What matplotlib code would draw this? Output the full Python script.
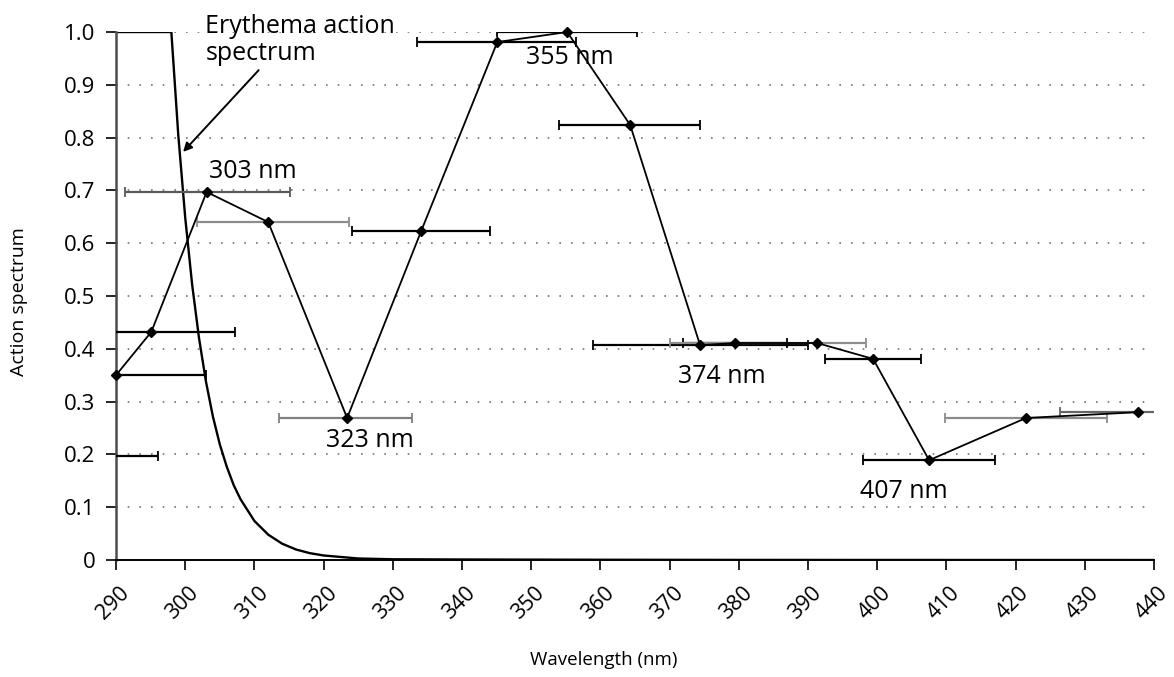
import matplotlib
matplotlib.use('Agg')
import matplotlib.pyplot as plt
import matplotlib.transforms as mtransforms
import numpy as np

plt.rcParams['font.family'] = ['Open Sans', 'DejaVu Sans']

# measured action spectrum (wavelength, value, bar limits)
wl   = [283.5, 290.0, 295.1, 303.1, 312.0, 323.4, 334.1, 345.1, 355.2, 364.3,
        374.4, 379.5, 391.3, 399.4, 407.5, 421.5, 437.7]
val  = [0.197, 0.350, 0.432, 0.697, 0.640, 0.269, 0.623, 0.981, 1.000, 0.824,
        0.407, 0.411, 0.411, 0.381, 0.189, 0.269, 0.280]
x_lo = [277.0, 277.0, 283.0, 291.3, 301.7, 313.5, 324.1, 333.5, 345.1, 354.0,
        359.0, 372.0, 370.0, 392.5, 398.0, 409.8, 426.4]
x_hi = [296.1, 303.0, 307.2, 315.1, 323.7, 332.8, 344.0, 356.5, 365.3, 374.4,
        390.0, 387.0, 398.4, 406.3, 417.0, 433.2, 449.0]
bar_col = ['k', 'k', 'k', '0.35', '0.55', '0.5', 'k', 'k', 'k', 'k',
           'k', 'k', '0.55', 'k', 'k', '0.55', '0.4']

# erythema action spectrum
ery_wl  = [290, 298, 299, 300, 301, 302, 303, 304, 305, 306, 307, 308, 310,
           312, 314, 316, 318, 320, 325, 330, 340, 360, 380, 400, 440]
ery_val = [1.0, 1.0, 0.805, 0.649, 0.522, 0.420, 0.338, 0.272, 0.219, 0.177,
           0.142, 0.115, 0.074, 0.048, 0.031, 0.020, 0.013, 0.0086, 0.0029,
           0.0014, 0.0010, 0.0005, 0.0002, 0.0001, 0.0]

labels = ['303 nm', '323 nm', '355 nm', '374 nm', '407 nm']
lab_x  = [309.8, 326.7, 355.6, 377.6, 403.9]
lab_y  = [0.735, 0.227, 0.951, 0.348, 0.129]

fig = plt.figure(figsize=(11.74, 6.77), dpi=100)
ax = fig.add_axes([0.0988, 0.1728, 0.8842, 0.7799])

# dotted horizontal grid
for yv in np.arange(0.1, 1.01, 0.1):
    ax.axhline(yv, color='0.45', lw=1.2, ls=(0, (1, 6)), zorder=0)

# erythema curve
ax.plot(ery_wl, ery_val, color='k', lw=1.7, zorder=2)

# horizontal bars
for x, y, lo, hi, c in zip(wl, val, x_lo, x_hi, bar_col):
    ax.errorbar(x, y, xerr=[[x - lo], [hi - x]], fmt='none', ecolor=c,
                elinewidth=1.6, capsize=3.5, capthick=1.3, zorder=3)

ax.plot(wl, val, color='k', lw=1.3, zorder=4)
inside = [i for i, x in enumerate(wl) if x >= 290]
ax.plot([wl[i] for i in inside], [val[i] for i in inside], ls='none',
        marker='D', ms=5.5, color='k', zorder=5, clip_on=False)

for t, x, y in zip(labels, lab_x, lab_y):
    ax.text(x, y, t, ha='center', va='center', fontsize=18)

ax.annotate('Erythema action\nspectrum', xy=(299.7, 0.773), xytext=(302.9, 0.985),
            ha='left', va='center', fontsize=18, linespacing=1.15,
            arrowprops=dict(arrowstyle='-|>', color='k', lw=1.4,
                            mutation_scale=13, shrinkA=1, shrinkB=0,
                            relpos=(0.3, 0.0)),
            annotation_clip=False)

ax.set_xlim(290, 440)
ax.set_ylim(0, 1.0)
ax.set_xticks(np.arange(290, 441, 10))
ax.set_yticks(np.arange(0, 1.01, 0.1))
ax.set_yticklabels(['0'] + ['%.1f' % v for v in np.arange(0.1, 1.01, 0.1)])
ax.tick_params(axis='x', labelsize=15.5, length=7, width=1.2, pad=9)
ax.tick_params(axis='y', labelsize=16, length=7, width=1.2, pad=8)
shift = mtransforms.ScaledTranslation(3 / 100, 0, fig.dpi_scale_trans)
for lab in ax.get_xticklabels():
    lab.set_rotation(45)
    lab.set_ha('right')
    lab.set_rotation_mode('anchor')
    lab.set_transform(lab.get_transform() + shift)

for s in ['top', 'right']:
    ax.spines[s].set_visible(False)
ax.spines['left'].set_color('0.3')
ax.spines['left'].set_linewidth(1.8)
ax.spines['bottom'].set_linewidth(1.4)

ax.set_xlabel('Wavelength (nm)', fontsize=13.5)
ax.set_ylabel('Action spectrum', fontsize=14)
ax.xaxis.set_label_coords(0.470, -0.172)
ax.yaxis.set_label_coords(-0.085, 0.49)

fig.savefig('out.png', dpi=100)
